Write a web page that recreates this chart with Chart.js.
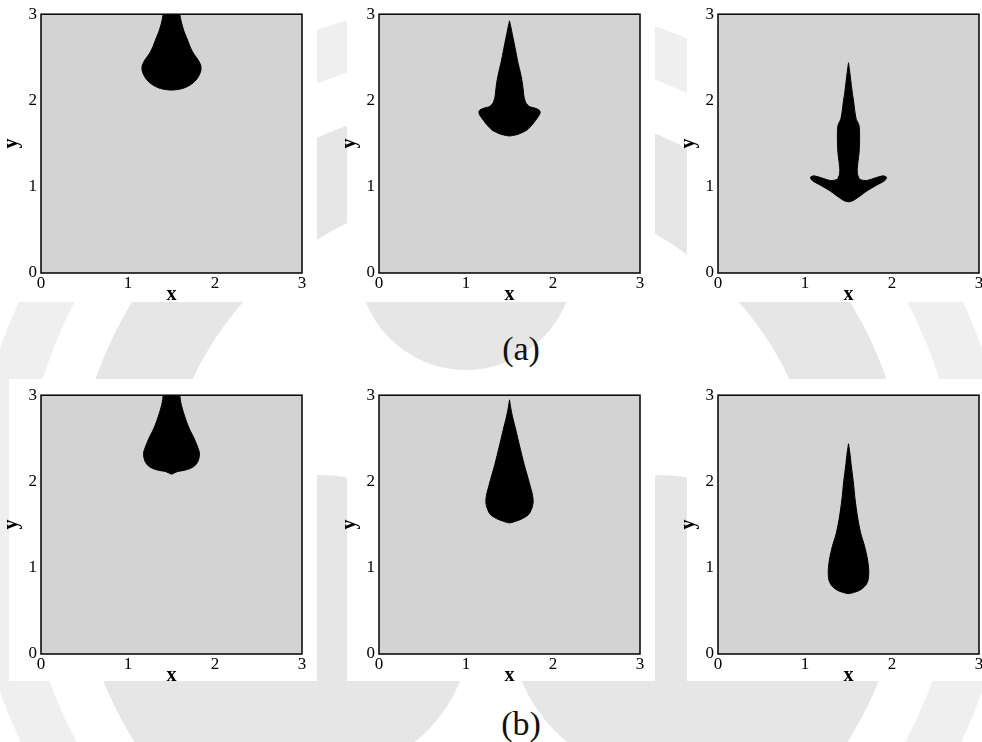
<!DOCTYPE html>
<html>
<head>
<meta charset="utf-8">
<script src="https://cdn.jsdelivr.net/npm/chart.js@4.4.1/dist/chart.umd.min.js"></script>
<style>
  html, body { margin: 0; padding: 0; background: #fff; }
  #fig { position: relative; width: 982px; height: 742px; overflow: hidden; background: #fff; }
  .wm { position: absolute; border-radius: 50%; box-sizing: border-box; }
  .sheet { position: absolute; background: #fff; }
  .panel { position: absolute; }
  .cap { position: absolute; font-family: 'Liberation Serif', serif; font-size: 34px; color: #111;
         transform: translate(-50%, -50%); line-height: 1; white-space: nowrap; }
</style>
</head>
<body>
<div id="fig">
  <!-- faint emblem behind the figure -->
  <div class="wm" style="left:-29px;top:0px;width:1040px;height:1040px;border:50px solid #efefef;"></div>
  <div class="wm" style="left:71px;top:100px;width:840px;height:840px;border:90px solid #e6e6e6;"></div>
  <div class="wm" style="left:171px;top:475px;width:300px;height:300px;background:#e6e6e6;"></div>
  <div class="wm" style="left:511px;top:475px;width:300px;height:300px;background:#e6e6e6;"></div>
  <div class="wm" style="left:358px;top:154px;width:216px;height:216px;background:#e6e6e6;"></div>

  <!-- white sheets under each panel -->
  <div class="sheet" style="left:0px;top:0px;width:317px;height:302px;"></div>
  <div class="sheet" style="left:347px;top:0px;width:308px;height:302px;"></div>
  <div class="sheet" style="left:687px;top:0px;width:295px;height:302px;"></div>
  <div class="sheet" style="left:9px;top:379px;width:308px;height:302px;"></div>
  <div class="sheet" style="left:347px;top:379px;width:308px;height:302px;"></div>
  <div class="sheet" style="left:687px;top:379px;width:295px;height:302px;"></div>

  <canvas id="a1" class="panel" width="318" height="307" style="left:0px;top:0px;"></canvas>
  <canvas id="a2" class="panel" width="318" height="307" style="left:338px;top:0px;"></canvas>
  <canvas id="a3" class="panel" width="318" height="307" style="left:677px;top:0px;"></canvas>
  <canvas id="b1" class="panel" width="318" height="307" style="left:0px;top:381px;"></canvas>
  <canvas id="b2" class="panel" width="318" height="307" style="left:338px;top:381px;"></canvas>
  <canvas id="b3" class="panel" width="318" height="307" style="left:677px;top:381px;"></canvas>

  <div class="cap" style="left:521px;top:349px;">(a)</div>
  <div class="cap" style="left:521px;top:724px;">(b)</div>
</div>

<script>
// Axis ticks shared by every panel
const xTicks = [0, 1, 2, 3];
const yTicks = [0, 1, 2, 3];
const xRange = [0, 3];
const yRange = [0, 3];
const axisX = 1.5;  // droplets are symmetric about this vertical line

// Interface profiles: height y and half-width of the dark phase at that height.
// Row (a)
const a1Y = [3.0, 2.9, 2.8, 2.7, 2.62, 2.55, 2.5, 2.45, 2.4, 2.35, 2.3, 2.25, 2.2, 2.16, 2.135, 2.12];
const a1W = [0.095, 0.115, 0.145, 0.185, 0.215, 0.25, 0.285, 0.318, 0.338, 0.338, 0.322, 0.292, 0.244, 0.18, 0.113, 0.0];

const a2Y = [2.923, 2.85, 2.75, 2.6, 2.45, 2.39, 2.3, 2.2, 2.1, 2.04, 1.97, 1.93, 1.91, 1.89, 1.87, 1.85, 1.83, 1.8, 1.77, 1.72, 1.66, 1.62, 1.60, 1.589];
const a2W = [0.0, 0.016, 0.036, 0.066, 0.095, 0.109, 0.13, 0.148, 0.16, 0.167, 0.19, 0.23, 0.295, 0.34, 0.352, 0.35, 0.342, 0.322, 0.3, 0.262, 0.205, 0.13, 0.07, 0.0];

// right half traced from the tip, out along the arm and back under it
const a3Y = [2.437, 2.35, 2.2, 2.08, 1.98, 1.86, 1.78, 1.73, 1.68, 1.55, 1.4, 1.28, 1.2, 1.14, 1.085, 1.072, 1.107, 1.126, 1.11, 1.072, 1.018, 0.949, 0.879, 0.837, 0.825];
const a3W = [0.0, 0.012, 0.03, 0.045, 0.06, 0.075, 0.09, 0.115, 0.125, 0.128, 0.122, 0.108, 0.1, 0.105, 0.132, 0.208, 0.323, 0.4, 0.437, 0.418, 0.323, 0.208, 0.113, 0.048, 0.0];

// Row (b)
const b1Y = [3.0, 2.9, 2.8, 2.7, 2.6, 2.5, 2.4, 2.34, 2.28, 2.22, 2.18, 2.15, 2.13, 2.115, 2.1, 2.085];
const b1W = [0.095, 0.11, 0.138, 0.17, 0.21, 0.26, 0.3, 0.32, 0.318, 0.298, 0.265, 0.215, 0.15, 0.07, 0.035, 0.0];

const b2Y = [2.946, 2.85, 2.75, 2.6, 2.4, 2.2, 2.05, 1.94, 1.84, 1.76, 1.69, 1.63, 1.6, 1.57, 1.545, 1.52];
const b2W = [0.0, 0.015, 0.035, 0.072, 0.119, 0.168, 0.21, 0.24, 0.265, 0.272, 0.257, 0.23, 0.2, 0.15, 0.09, 0.0];

const b3Y = [2.437, 2.3, 2.2, 2.0, 1.8, 1.6, 1.4, 1.25, 1.1, 0.97, 0.86, 0.8, 0.76, 0.73, 0.70];
const b3W = [0.0, 0.02, 0.03, 0.055, 0.075, 0.102, 0.14, 0.185, 0.218, 0.233, 0.226, 0.2, 0.16, 0.11, 0.0];

const SERIF = "'Liberation Serif', 'Times New Roman', serif";
const PLOT_BG = '#d3d3d3';

// closed outline: right half as listed, then mirrored left half back to the start
function outline(ys, ws) {
  const right = ys.map((y, i) => ({ x: axisX + ws[i], y }));
  const left = ys.map((y, i) => ({ x: axisX - ws[i], y })).reverse();
  if (ws[ws.length - 1] === 0) left.shift();
  return right.concat(left);
}

// grey domain fill under the data and a black frame on top
const domainFrame = {
  id: 'domainFrame',
  beforeDraw(chart) {
    const { ctx, chartArea: a } = chart;
    ctx.save();
    ctx.fillStyle = PLOT_BG;
    ctx.fillRect(a.left, a.top, a.right - a.left, a.bottom - a.top);
    ctx.restore();
  },
  afterDraw(chart) {
    const { ctx, chartArea: a } = chart;
    ctx.save();
    ctx.strokeStyle = '#000';
    ctx.lineWidth = 1.5;
    ctx.strokeRect(a.left, a.top, a.right - a.left, a.bottom - a.top);
    ctx.restore();
  }
};

function axisOptions(range, ticks, label, isX) {
  return {
    type: 'linear',
    min: range[0],
    max: range[1],
    afterBuildTicks: s => { s.ticks = ticks.map(v => ({ value: v })); },
    grid: { display: false, drawTicks: false },
    border: { display: false },
    ticks: { color: '#000', font: { family: SERIF, size: 17 }, padding: isX ? 0 : 4, maxRotation: 0, autoSkip: false },
    title: { display: true, text: label, color: '#000', font: { family: SERIF, size: 20, weight: 'bold' },
             padding: { top: 0, bottom: 0 } },
    afterFit: s => { if (isX) { s.height = 34; } else { s.width = 41; } }
  };
}

function makePanel(id, ys, ws) {
  new Chart(document.getElementById(id), {
    type: 'line',
    data: {
      datasets: [{
        data: outline(ys, ws),
        fill: 'shape',
        backgroundColor: '#000',
        borderColor: '#000',
        borderWidth: 1,
        pointRadius: 0,
        tension: 0.25
      }]
    },
    options: {
      responsive: false,
      animation: false,
      events: [],
      layout: { padding: { top: 14, right: 16, left: 0, bottom: 0 } },
      plugins: { legend: { display: false }, tooltip: { enabled: false } },
      scales: {
        x: axisOptions(xRange, xTicks, 'x', true),
        y: axisOptions(yRange, yTicks, 'y', false)
      }
    },
    plugins: [domainFrame]
  });
}

makePanel('a1', a1Y, a1W);
makePanel('a2', a2Y, a2W);
makePanel('a3', a3Y, a3W);
makePanel('b1', b1Y, b1W);
makePanel('b2', b2Y, b2W);
makePanel('b3', b3Y, b3W);
</script>
</body>
</html>
